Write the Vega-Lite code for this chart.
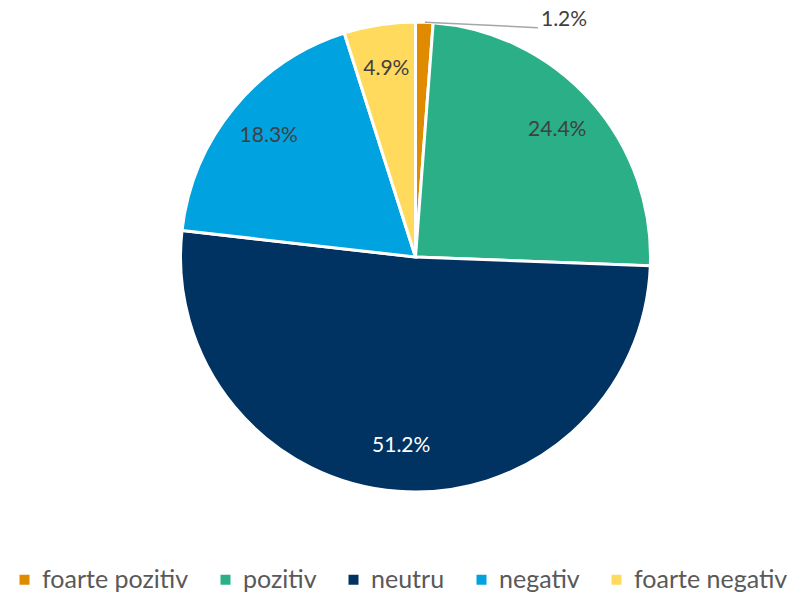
{
  "$schema": "https://vega.github.io/schema/vega-lite/v6.json",
  "width": 751,
  "height": 514,
  "autosize": {"type": "none"},
  "padding": {"left": 40, "top": 0, "right": 0, "bottom": 82},
  "background": "white",
  "config": {"view": {"stroke": null}, "font": "Lato"},
  "data": {"values": [
    {"category": "foarte pozitiv", "pct": 1.2, "label": "1.2%", "idx": 1},
    {"category": "pozitiv", "pct": 24.4, "label": "24.4%", "idx": 2},
    {"category": "neutru", "pct": 51.2, "label": "51.2%", "idx": 3},
    {"category": "negativ", "pct": 18.3, "label": "18.3%", "idx": 4},
    {"category": "foarte negativ", "pct": 4.9, "label": "4.9%", "idx": 5}
  ]},
  "layer": [
    {
      "mark": {"type": "arc", "radius": 235, "stroke": "white", "strokeWidth": 3},
      "encoding": {
        "theta": {"field": "pct", "type": "quantitative", "stack": true},
        "order": {"field": "idx", "type": "quantitative"},
        "color": {
          "field": "category", "type": "nominal", "sort": null,
          "scale": {
            "domain": ["foarte pozitiv", "pozitiv", "neutru", "negativ", "foarte negativ"],
            "range": ["#E08A00", "#2BAF86", "#003262", "#00A3E0", "#FFDA5C"]
          },
          "legend": {
            "orient": "none", "legendX": -28, "legendY": 567,
            "direction": "horizontal", "title": null,
            "symbolType": "square", "symbolSize": 100, "symbolStrokeWidth": 0,
            "labelFontSize": 25, "labelColor": "#595959", "labelOffset": 5,
            "columnPadding": 24, "labelLimit": 300
          }
        }
      }
    },
    {
      "mark": {"type": "text", "radius": 190, "fontSize": 21},
      "encoding": {
        "theta": {"field": "pct", "type": "quantitative", "stack": true},
        "order": {"field": "idx", "type": "quantitative"},
        "text": {"condition": {"test": "datum.category === 'foarte pozitiv'", "value": ""}, "field": "label", "type": "nominal"},
        "color": {"condition": {"test": "datum.category === 'neutru'", "value": "white"}, "value": "#404040"}
      }
    },
    {
      "data": {"values": [{"x1": 0.04, "y1": 0.999, "x2": 0.521, "y2": 0.976}]},
      "mark": {"type": "rule", "color": "#A6A6A6", "strokeWidth": 1.5},
      "encoding": {
        "x": {"field": "x1", "type": "quantitative", "scale": {"domain": [-1.598, 1.598], "nice": false, "zero": false}, "axis": null},
        "y": {"field": "y1", "type": "quantitative", "scale": {"domain": [-1.0936, 1.0936], "nice": false, "zero": false}, "axis": null},
        "x2": {"field": "x2"},
        "y2": {"field": "y2"}
      }
    },
    {
      "data": {"values": [{"x": 0.534, "y": 1.009, "label": "1.2%"}]},
      "mark": {"type": "text", "align": "left", "baseline": "middle", "fontSize": 21, "color": "#404040"},
      "encoding": {
        "x": {"field": "x", "type": "quantitative", "scale": {"domain": [-1.598, 1.598], "nice": false, "zero": false}, "axis": null},
        "y": {"field": "y", "type": "quantitative", "scale": {"domain": [-1.0936, 1.0936], "nice": false, "zero": false}, "axis": null},
        "text": {"field": "label", "type": "nominal"}
      }
    }
  ]
}
